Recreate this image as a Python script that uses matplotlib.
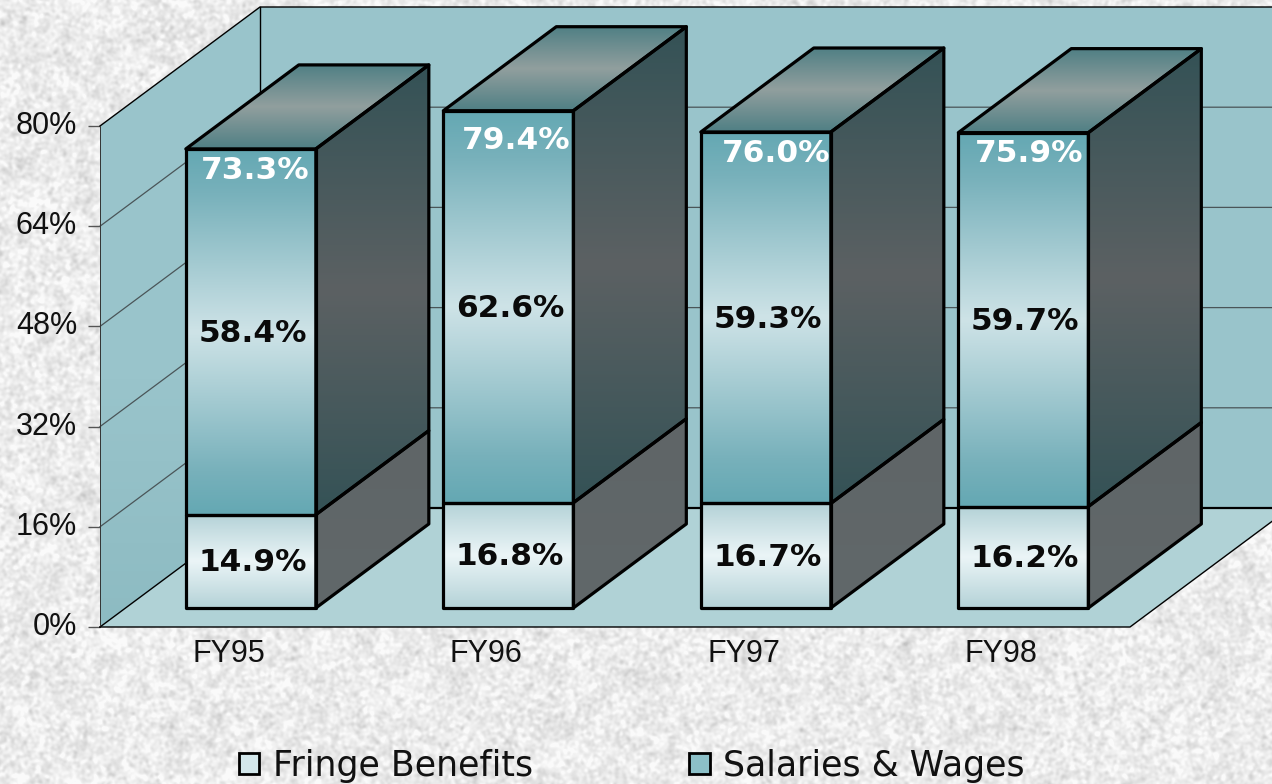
import numpy as np
import matplotlib
matplotlib.use('Agg')
import matplotlib.pyplot as plt
from matplotlib.patches import Polygon, Patch

years = ['FY95', 'FY96', 'FY97', 'FY98']
fringe = [14.9, 16.8, 16.7, 16.2]
salaries = [58.4, 62.6, 59.3, 59.7]
totals = [73.3, 79.4, 76.0, 75.9]
yticks = [0, 16, 32, 48, 64, 80]
# small hand nudges for the white total labels, (x, y) in data units
total_nudge_x = [0.018, 0.03, 0.04, 0.024]
total_nudge_y = [3.4, 4.7, 3.5, 3.4]

W, H = 1272, 784
plt.rcParams['font.family'] = ['Liberation Sans', 'DejaVu Sans']

def hexrgb(c):
    return np.array(matplotlib.colors.to_rgb(c))

def make_grad(stops, n = 256):
    pos = [s[0] for s in stops]
    cols = np.array([hexrgb(s[1]) for s in stops])
    t = np.linspace(0, 1, n)
    g = np.zeros((n, 1, 3))
    for i in range(3):
        g[:, 0, i] = np.interp(t, pos, cols[:, i])
    return g

def blur(a, sigma):
    fx = np.fft.fftfreq(a.shape[1])[None, :]
    fy = np.fft.fftfreq(a.shape[0])[:, None]
    g = np.exp(-2*(np.pi*sigma)**2*(fx**2 + fy**2))
    return np.fft.ifft2(np.fft.fft2(a)*g).real

def paper_texture():
    # grey speckled slide background, noise only used for the paper look
    rng = np.random.default_rng(7547)
    fine = blur(rng.standard_normal((H, W)), 1.5)
    mid = blur(rng.standard_normal((H, W)), 6.)
    fine /= fine.std()
    mid /= mid.std()
    tex = 235 + 8*fine + 3*mid
    tex = np.clip(tex, 195, 250)/255.
    return tex

fig = plt.figure(figsize = (W/100., H/100.), dpi = 100)
bg = fig.add_axes([0, 0, 1, 1], zorder = 0)
bg.imshow(paper_texture(), cmap = 'gray', vmin = 0, vmax = 1, aspect = 'auto')
bg.set_axis_off()

# the axes rectangle is the front plane of the 3D box
ax = fig.add_axes([100./W, 1 - 627./H, 1030./W, 501./H], zorder = 1)
ax.set_xlim(-0.5, 3.5)
ax.set_ylim(0, 80)
ax.set_autoscale_on(False)
ax.patch.set_visible(False)
for s in ax.spines.values():
    s.set_visible(False)

# depth of the box, in data units
box_dx = 160/257.5
box_dy = 119/6.2625
front_frac = 0.16
bar_frac = 0.706
bar_w = 0.505
bar_shift = -0.0136
label_dy = -0.25

def gradient_face(pts, stops, z):
    pts = np.array(pts)
    ext = (pts[:, 0].min(), pts[:, 0].max(), pts[:, 1].min(), pts[:, 1].max())
    im = ax.imshow(make_grad(stops), extent = ext, aspect = 'auto',
                   origin = 'upper', interpolation = 'bilinear', zorder = z)
    clip = Polygon(pts, closed = True, transform = ax.transData)
    im.set_clip_path(clip)
    im.set_clip_box(fig.bbox)

def outline(pts, z, lw = 2.3):
    ax.add_patch(Polygon(pts, closed = True, fill = False, edgecolor = 'black',
                         lw = lw, zorder = z, clip_on = False,
                         joinstyle = 'round'))

x0, x1 = -0.5, 3.5
right = x1 + box_dx
# walls and floor
gradient_face([(x0, 0), (x0 + box_dx, box_dy), (x0 + box_dx, 80 + box_dy), (x0, 80)],
              [(0, '#9AC5CC'), (0.6, '#99C4CB'), (1, '#8DBBC2')], 1)
ax.add_patch(Polygon([(x0 + box_dx, box_dy), (right, box_dy), (right, 80 + box_dy), (x0 + box_dx, 80 + box_dy)],
                     closed = True, fc = '#99C4CB', ec = 'none', zorder = 1, clip_on = False))
ax.add_patch(Polygon([(x0, 0), (x1, 0), (right, box_dy), (x0 + box_dx, box_dy)],
                     closed = True, fc = '#B0D2D6', ec = 'none', zorder = 1, clip_on = False))
for v in yticks[1:-1]:
    ax.plot([x0, x0 + box_dx, right], [v, v + box_dy, v + box_dy],
            color = '#4a5558', lw = 0.9, zorder = 2, clip_on = False)
ax.plot([x0, x0 + box_dx], [0, box_dy], color = 'black', lw = 1.0,
        zorder = 2, clip_on = False)
ax.plot([x0 + box_dx, right], [box_dy, box_dy], color = 'black', lw = 1.6,
        zorder = 2, clip_on = False)
ax.plot([x0, x0 + box_dx, right], [80, 80 + box_dy, 80 + box_dy], color = 'black',
        lw = 1.0, zorder = 2, clip_on = False)
ax.plot([x0 + box_dx, x0 + box_dx], [box_dy, 80 + box_dy], color = 'black', lw = 1.0,
        zorder = 2, clip_on = False)
ax.plot([x0, x0], [0, 80], color = '#333333', lw = 0.7, zorder = 2, clip_on = False)
ax.plot([x0, x1, right], [0, 0, box_dy], color = 'black', lw = 1.0, zorder = 2, clip_on = False)

SAL_FRONT = [(0, '#64A8B3'), (0.12, '#78B1BB'), (0.5, '#CEE3E7'), (0.88, '#78B1BB'), (1, '#64A8B3')]
FRI_FRONT = [(0, '#B4D2D7'), (0.5, '#EBF5F7'), (1, '#B4D2D7')]
TOP_FACE = [(0, '#4F7F84'), (0.5, '#919F9E'), (1, '#4F7F84')]
SAL_SIDE = [(0, '#345256'), (0.5, '#5C6163'), (1, '#345256')]
FRI_SIDE = [(0, '#5F6567'), (1, '#61686A')]

off_x = front_frac*box_dx + bar_shift
off_y = front_frac*box_dy
dx = bar_frac*box_dx
dy = bar_frac*box_dy

z = 3
for i in range(len(years)):
    l = i + off_x - bar_w/2
    r = i + off_x + bar_w/2
    b = off_y
    m = b + fringe[i]
    t = b + totals[i]
    # back to front: side faces and top, then the fronts
    sal_side = [(r, m), (r + dx, m + dy), (r + dx, t + dy), (r, t)]
    fri_side = [(r, b), (r + dx, b + dy), (r + dx, m + dy), (r, m)]
    top_face = [(l, t), (r, t), (r + dx, t + dy), (l + dx, t + dy)]
    sal_front = [(l, m), (r, m), (r, t), (l, t)]
    fri_front = [(l, b), (r, b), (r, m), (l, m)]
    gradient_face(sal_side, SAL_SIDE, z)
    gradient_face(fri_side, FRI_SIDE, z)
    gradient_face(top_face, TOP_FACE, z)
    gradient_face(sal_front, SAL_FRONT, z)
    gradient_face(fri_front, FRI_FRONT, z)
    for face in (sal_side, fri_side, top_face, sal_front, fri_front):
        outline(face, z + 1)
    ax.text(i + off_x + 0.006, b + fringe[i]/2. + label_dy, '%.1f%%' % fringe[i], ha = 'center', va = 'center',
            family = 'DejaVu Sans', fontweight = 'bold', fontsize = 22.5, color = '#0a0a0a', zorder = 20)
    ax.text(i + off_x + 0.006, m + salaries[i]/2. + label_dy, '%.1f%%' % salaries[i], ha = 'center', va = 'center',
            family = 'DejaVu Sans', fontweight = 'bold', fontsize = 22.5, color = '#0a0a0a', zorder = 20)
    ax.text(i + off_x + total_nudge_x[i], t - total_nudge_y[i], '%.1f%%' % totals[i], ha = 'center', va = 'center',
            family = 'DejaVu Sans', fontweight = 'bold', fontsize = 22.5, color = 'white', zorder = 20)
    z += 2

ax.set_xticks(range(len(years)))
ax.set_xticklabels(years, fontsize = 22, color = '#111111')
ax.set_yticks(yticks)
ax.set_yticklabels(['%d%%' % v for v in yticks], fontsize = 22, color = '#111111', va = 'center')
ax.tick_params(axis = 'x', length = 0, pad = 9)
ax.tick_params(axis = 'y', length = 8.5, width = 1.0, color = '#555555', pad = 8)

handles = [Patch(facecolor = '#D3E7EB', edgecolor = 'black', lw = 2.0),
           Patch(facecolor = '#8CC0C8', edgecolor = 'black', lw = 2.0)]
leg = fig.legend(handles, ['Fringe Benefits', 'Salaries & Wages'], ncol = 2, frameon = False,
                 loc = 'center', bbox_to_anchor = (632./W, 1 - 766./H),
                 prop = {'family': 'DejaVu Sans', 'size': 25},
                 handlelength = 0.58, handleheight = 0.53, handletextpad = 0.4,
                 columnspacing = 4.5, labelcolor = '#111111')
leg.set_zorder(30)

fig.savefig('out.png', dpi = 100)
